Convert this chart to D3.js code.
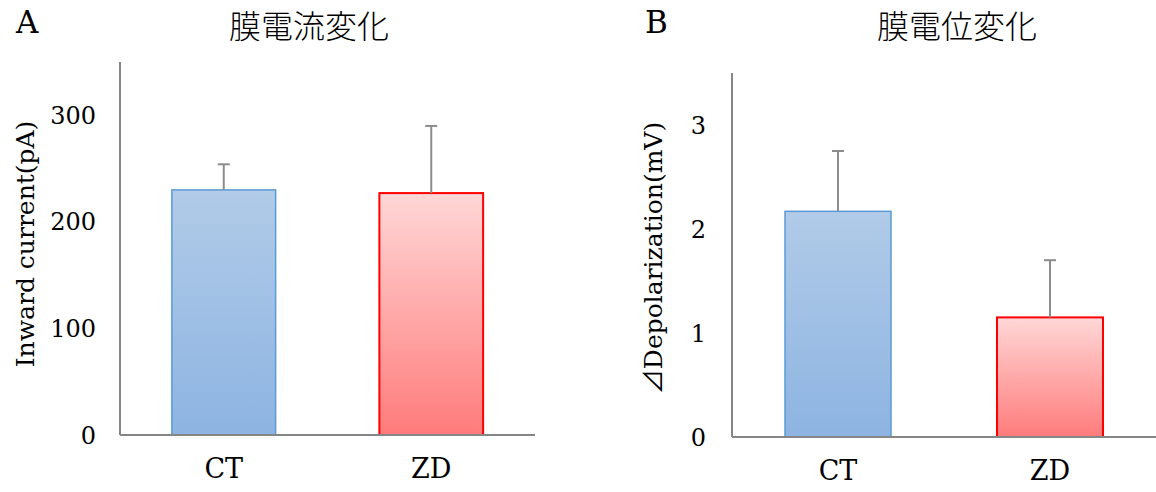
<!DOCTYPE html>
<html>
<head>
<meta charset="utf-8">
<script src="https://cdn.jsdelivr.net/npm/d3@7"></script>
<style>
  body { margin: 0; background: #fff; }
  text { font-family: "DejaVu Serif", "Liberation Serif", serif; fill: #000; }
  .jp { font-family: "Noto Sans CJK JP", sans-serif; font-weight: 300; }
</style>
</head>
<body>
<div class="chart"></div>
<script>
// data
var groups = ["CT", "ZD"];
var currentMean = [230, 227];
var currentErr = [24, 63];
var currentTicks = [0, 100, 200, 300];
var voltMean = [2.17, 1.15];
var voltErr = [0.58, 0.55];
var voltTicks = [0, 1, 2, 3];

var w = 1156, h = 492;
var svg = d3.select(".chart").append("svg").attr("width", w).attr("height", h);

// gradients for the bars
var defs = svg.append("defs");
function grad(id, top, bottom) {
    var g = defs.append("linearGradient").attr("id", id)
        .attr("x1", 0).attr("y1", 0).attr("x2", 0).attr("y2", 1);
    g.append("stop").attr("offset", "0%").attr("stop-color", top);
    g.append("stop").attr("offset", "100%").attr("stop-color", bottom);
}
grad("gBlue", "#b1cbe8", "#8db4e2");
grad("gRed", "#ffd7d7", "#ff7b7b");
var fills = ["url(#gBlue)", "url(#gRed)"];
var strokes = ["#5b9bd5", "#ff0000"];

function panel(opt) {
    var x = d3.scaleBand().domain(groups).range([opt.x0, opt.x1]).paddingInner(0.5).paddingOuter(0.25);
    var y = d3.scaleLinear().domain([0, opt.max]).range([opt.y0, opt.y1]);
    var g = svg.append("g");

    // y axis line and tick labels
    g.append("line").attr("x1", opt.x0).attr("x2", opt.x0)
        .attr("y1", y(0)).attr("y2", y(opt.max))
        .attr("stroke", "#868686").attr("stroke-width", 2);
    g.selectAll(".yt").data(opt.ticks).enter().append("text")
        .attr("x", opt.tickX).attr("y", function(d) { return y(d); })
        .attr("dy", "0.36em").attr("text-anchor", "end")
        .style("font-size", "24px").text(function(d) { return d; });

    // bars
    g.selectAll(".bar").data(opt.mean).enter().append("rect")
        .attr("x", function(d, i) { return x(groups[i]); })
        .attr("y", function(d) { return y(d); })
        .attr("width", x.bandwidth())
        .attr("height", function(d) { return y(0) - y(d); })
        .attr("fill", function(d, i) { return fills[i]; })
        .attr("stroke", function(d, i) { return strokes[i]; })
        .attr("stroke-width", function(d, i) { return i === 1 ? 2 : 1.5; });

    // error bars (upper only)
    opt.mean.forEach(function(m, i) {
        var cx = x(groups[i]) + x.bandwidth() / 2;
        g.append("line").attr("x1", cx).attr("x2", cx)
            .attr("y1", y(m)).attr("y2", y(m + opt.err[i]))
            .attr("stroke", "#8c8c8c").attr("stroke-width", 2);
        g.append("line").attr("x1", cx - 6).attr("x2", cx + 6)
            .attr("y1", y(m + opt.err[i])).attr("y2", y(m + opt.err[i]))
            .attr("stroke", "#8c8c8c").attr("stroke-width", 2);
    });

    // x axis line and category labels
    g.append("line").attr("x1", opt.x0).attr("x2", opt.x1)
        .attr("y1", y(0)).attr("y2", y(0))
        .attr("stroke", "#868686").attr("stroke-width", 2);
    g.selectAll(".xt").data(groups).enter().append("text")
        .attr("x", function(d) { return x(d) + x.bandwidth() / 2; })
        .attr("y", opt.xLabelY)
        .attr("text-anchor", "middle")
        .style("font-size", "27px").text(function(d) { return d; });

    // axis title (optional prefix symbol drawn with the CJK font)
    var t = g.append("text")
        .attr("transform", "translate(" + opt.labelX + "," + opt.labelY + ") rotate(-90)")
        .attr("text-anchor", "middle")
        .style("font-size", "25px");
    if (opt.prefix) {
        t.append("tspan").attr("class", "jp").style("font-weight", 400).text(opt.prefix);
    }
    t.append("tspan").text(opt.label);

    // panel letter and title
    g.append("text").attr("x", opt.letterX).attr("y", 33)
        .style("font-size", "31px").text(opt.letter);
    g.append("text").attr("class", "jp").attr("x", opt.titleX).attr("y", 38)
        .attr("text-anchor", "middle")
        .style("font-size", "32px").text(opt.title);
}

panel({
    x0: 120, x1: 535, y0: 435, y1: 62, max: 350,
    mean: currentMean, err: currentErr, ticks: currentTicks,
    tickX: 96, xLabelY: 478, label: "Inward current(pA)", labelX: 34, labelY: 244,
    letter: "A", letterX: 16, title: "膜電流変化", titleX: 309
});

panel({
    x0: 732, x1: 1156, y0: 437, y1: 73, max: 3.5,
    mean: voltMean, err: voltErr, ticks: voltTicks,
    tickX: 706, xLabelY: 480, prefix: "⊿", label: "Depolarization(mV)", labelX: 662, labelY: 258,
    letter: "B", letterX: 645, title: "膜電位変化", titleX: 957
});
</script>
</body>
</html>
